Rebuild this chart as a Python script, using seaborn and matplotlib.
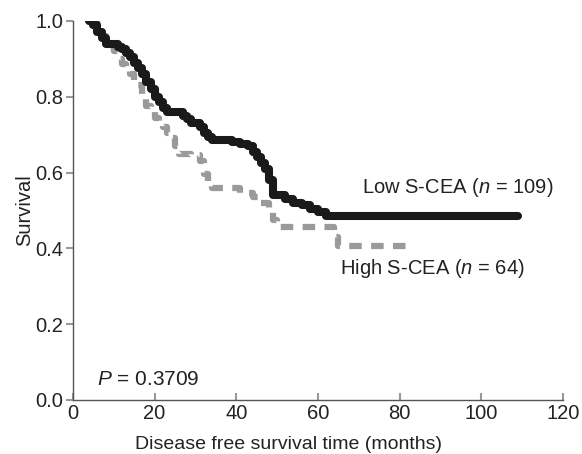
import matplotlib
matplotlib.use('Agg')
import matplotlib.pyplot as plt
import seaborn as sns
import pandas as pd

# Kaplan-Meier step points (time in months, survival)
low_t = [4, 5, 6, 7, 8, 11, 12, 13, 14, 15, 16, 17, 18, 19, 20, 21, 22, 23, 27, 28,
         29, 31, 32, 33, 34, 39, 41, 43, 44, 45, 46, 47, 48, 49, 52, 54, 56, 58, 60, 62, 109]
low_s = [1.0, 0.99, 0.97, 0.955, 0.94, 0.93, 0.925, 0.915, 0.905, 0.89, 0.875, 0.86, 0.84,
         0.82, 0.80, 0.785, 0.77, 0.76, 0.75, 0.74, 0.73, 0.72, 0.705, 0.695, 0.685, 0.68,
         0.675, 0.67, 0.655, 0.64, 0.625, 0.61, 0.58, 0.54, 0.53, 0.52, 0.515, 0.505, 0.495,
         0.485, 0.485]

high_t = [5, 6, 7, 8, 9, 10, 11, 12, 13, 14, 15, 16, 17, 18, 19, 20, 21, 22, 23, 24, 25,
          26, 29, 31, 32, 33, 34, 41, 44, 46, 48, 49, 50, 64, 65, 82]
high_s = [1.0, 0.98, 0.96, 0.94, 0.93, 0.92, 0.90, 0.885, 0.87, 0.86, 0.845, 0.83, 0.80,
          0.775, 0.76, 0.745, 0.735, 0.72, 0.705, 0.69, 0.67, 0.65, 0.645, 0.63, 0.595,
          0.575, 0.56, 0.545, 0.535, 0.52, 0.50, 0.475, 0.457, 0.43, 0.405, 0.405]

x_ticks = [0, 20, 40, 60, 80, 100, 120]
y_ticks = [0.0, 0.2, 0.4, 0.6, 0.8, 1.0]

sns.set_style('white')
plt.rcParams['font.family'] = ['Liberation Sans', 'DejaVu Sans']
plt.rcParams['mathtext.fontset'] = 'custom'
plt.rcParams['mathtext.it'] = 'Liberation Sans:italic'
plt.rcParams['mathtext.rm'] = 'Liberation Sans'

fs = 14.5

fig = plt.figure(figsize=(5.82, 4.54), dpi=100)
ax = fig.add_axes([0.1254, 0.119, 0.8416, 0.835])

low_df = pd.DataFrame({'time': low_t, 'surv': low_s})
high_df = pd.DataFrame({'time': high_t, 'surv': high_s})

sns.lineplot(data=high_df, x='time', y='surv', ax=ax, color='#9a9a9a', lw=4.5,
             drawstyle='steps-post', linestyle=(0, (2, 1.5)), estimator=None)
sns.lineplot(data=low_df, x='time', y='surv', ax=ax, color='#1a1a1a', lw=5.8,
             drawstyle='steps-post', estimator=None)

ax.set_xlim(0, 120)
ax.set_ylim(0, 1.0)
ax.set_xticks(x_ticks)
ax.set_yticks(y_ticks)
ax.set_yticklabels([f'{v:.1f}' for v in y_ticks])
ax.set_xlabel('Disease free survival time (months)', fontsize=14, color='#222222', x=0.44)
ax.xaxis.set_label_coords(0.44, -0.095)
ax.set_ylabel('Survival', fontsize=fs, labelpad=1, color='#222222')
ax.tick_params(axis='x', bottom=True, direction='in', length=5, width=1.5, color='#999999',
               labelsize=fs, pad=3, labelcolor='#222222')
ax.tick_params(axis='y', left=True, direction='out', length=5, width=1.5, color='#999999',
               labelsize=fs, pad=2, labelcolor='#222222')
for s in ['top', 'right']:
    ax.spines[s].set_visible(False)
for s in ['left', 'bottom']:
    ax.spines[s].set_color('#555555')
    ax.spines[s].set_linewidth(1)

ax.text(70.8, 0.56, 'Low S-CEA ($n$ = 109)', fontsize=fs, va='center', ha='left',
        color='#222222')
ax.text(65.4, 0.348, 'High S-CEA ($n$ = 64)', fontsize=fs, va='center', ha='left',
        color='#222222')
ax.text(5.9, 0.053, '$P$ = 0.3709', fontsize=15, va='center', ha='left', color='#222222')

fig.savefig('out.png', dpi=100)
